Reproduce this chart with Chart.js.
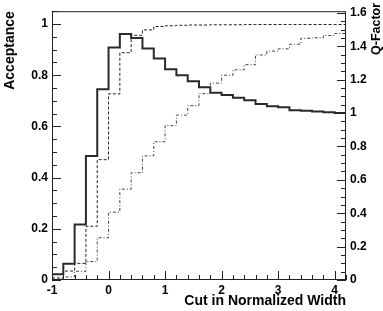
<!DOCTYPE html>
<html>
<head>
<meta charset="utf-8">
<script src="https://cdn.jsdelivr.net/npm/chart.js@4.4.1/dist/chart.umd.min.js"></script>
<style>
  body { margin: 0; background: #fff; }
  canvas { display: block; }
</style>
</head>
<body>
<canvas id="graficoQ" width="383" height="311"></canvas>
<script>
// bin low edges (bin width 0.2), last edge closes the histogram
var binEdges = [-1, -0.8, -0.6, -0.4, -0.2, 0, 0.2, 0.4, 0.6, 0.8, 1, 1.2, 1.4, 1.6, 1.8,
                2, 2.2, 2.4, 2.6, 2.8, 3, 3.2, 3.4, 3.6, 3.8, 4];
var xEnd = 4.2;

// Q-factor (right axis), solid
var qFactor = [0.035, 0.097, 0.333, 0.743, 1.143, 1.392, 1.473, 1.449, 1.387, 1.326, 1.262, 1.227, 1.191,
               1.155, 1.121, 1.108, 1.092, 1.076, 1.054, 1.041, 1.035, 1.017, 1.013, 1.009, 1.005, 1.001];
// gamma acceptance (left axis), dashed
var gammaAcc = [0.008, 0.035, 0.065, 0.21, 0.47, 0.727, 0.888, 0.956, 0.977, 0.99, 0.993, 0.995, 0.996,
                0.996, 0.997, 0.997, 0.997, 0.998, 0.998, 0.998, 0.998, 0.998, 0.998, 0.998, 0.998, 0.998];
// hadron acceptance (left axis), dash-dot
var hadronAcc = [0.003, 0.012, 0.034, 0.072, 0.165, 0.265, 0.355, 0.419, 0.485, 0.54, 0.603, 0.644, 0.681,
                 0.728, 0.769, 0.80, 0.821, 0.841, 0.879, 0.894, 0.903, 0.921, 0.944, 0.946, 0.955, 0.963];

var xTicks = [-1, 0, 1, 2, 3, 4];
var leftTicks = [0, 0.2, 0.4, 0.6, 0.8, 1];
var rightTicks = [0, 0.2, 0.4, 0.6, 0.8, 1, 1.2, 1.4, 1.6];

function histo(vals) {
  var pts = binEdges.map(function(x, i) { return {x: x, y: vals[i]}; });
  pts.push({x: xEnd, y: vals[vals.length - 1]});
  return pts;
}

var fonteEixo = {family: 'Liberation Sans', size: 12, weight: 'bold'};
var fonteTitulo = {family: 'Liberation Sans', size: 14, weight: 'bold'};

// ROOT style: frame + ticks drawn inward
var molduraPlugin = {
  id: 'moldura',
  afterDraw: function(chart) {
    var ctx = chart.ctx, a = chart.chartArea;
    var sx = chart.scales.x, sy = chart.scales.y, sq = chart.scales.q;
    ctx.save();
    ctx.strokeStyle = '#222';
    ctx.lineWidth = 1;
    ctx.strokeRect(a.left + 0.5, a.top + 0.5, a.right - a.left - 1, a.bottom - a.top - 1);
    ctx.beginPath();
    var v, p, len;
    for (v = -1; v <= xEnd + 1e-6; v += 0.2) {
      var r = Math.round(v * 10) / 10;
      p = Math.round(sx.getPixelForValue(r)) + 0.5;
      len = Math.abs(r - Math.round(r)) < 1e-6 ? 9 : 5;
      ctx.moveTo(p, a.bottom);
      ctx.lineTo(p, a.bottom - len);
    }
    for (v = 0; v <= 1.05 + 1e-6; v += 0.05) {
      var r2 = Math.round(v * 100) / 100;
      p = Math.round(sy.getPixelForValue(r2)) + 0.5;
      len = Math.abs(r2 * 5 - Math.round(r2 * 5)) < 1e-6 ? 9 : 5;
      ctx.moveTo(a.left, p);
      ctx.lineTo(a.left + len, p);
    }
    for (v = 0; v <= 1.61 + 1e-6; v += 0.05) {
      var r3 = Math.round(v * 100) / 100;
      p = Math.round(sq.getPixelForValue(r3)) + 0.5;
      len = Math.abs(r3 * 5 - Math.round(r3 * 5)) < 1e-6 ? 9 : 5;
      ctx.moveTo(a.right, p);
      ctx.lineTo(a.right - len, p);
    }
    ctx.stroke();
    // right axis title, reads bottom to top
    ctx.fillStyle = '#000';
    ctx.font = 'bold 12.5px "Liberation Sans"';
    ctx.translate(377, 55);
    ctx.rotate(-Math.PI / 2);
    ctx.textAlign = 'left';
    ctx.textBaseline = 'middle';
    ctx.fillText('Q-Factor', 0, 0);
    ctx.restore();
  }
};

function fixTicks(lista) {
  return function(scale) {
    scale.ticks = lista.map(function(v) { return {value: v}; });
  };
}

var grafico = new Chart(document.getElementById('graficoQ').getContext('2d'), {
  type: 'line',
  data: {
    datasets: [{
      label: 'Q-Factor',
      data: histo(qFactor),
      yAxisID: 'q',
      borderColor: '#2a2a2a',
      borderWidth: 2,
      stepped: 'before'
    }, {
      label: 'gamma',
      data: histo(gammaAcc),
      yAxisID: 'y',
      borderColor: '#222',
      borderWidth: 1,
      borderDash: [3, 2],
      stepped: 'before'
    }, {
      label: 'hadron',
      data: histo(hadronAcc),
      yAxisID: 'y',
      borderColor: '#444',
      borderWidth: 1,
      borderDash: [3, 2, 1, 2],
      stepped: 'before'
    }]
  },
  options: {
    responsive: false,
    devicePixelRatio: 1,
    animation: false,
    layout: {padding: {top: 1, left: 0, right: 0, bottom: 0}},
    elements: {point: {radius: 0}, line: {tension: 0}},
    plugins: {legend: {display: false}, tooltip: {enabled: false}},
    scales: {
      x: {
        type: 'linear', position: 'bottom', min: -1, max: xEnd,
        grid: {display: false, drawTicks: false},
        border: {display: false},
        afterBuildTicks: fixTicks(xTicks),
        afterFit: function(s) { s.height = 31; },
        ticks: {font: fonteEixo, color: '#000', padding: 3, maxRotation: 0, autoSkip: false},
        title: {display: true, text: 'Cut in Normalized Width', align: 'end', color: '#000',
                font: fonteTitulo, padding: {top: 0, bottom: 1}}
      },
      y: {
        type: 'linear', position: 'left', min: 0, max: 1.05,
        grid: {display: false, drawTicks: false},
        border: {display: false},
        afterBuildTicks: fixTicks(leftTicks),
        afterFit: function(s) { s.width = 52; },
        ticks: {font: fonteEixo, color: '#000', padding: 4, autoSkip: false,
                callback: function(v) { return String(Math.round(v * 10) / 10); }},
        title: {display: true, text: 'Acceptance', align: 'end', color: '#000',
                font: fonteTitulo, padding: {top: 2, bottom: 0}}
      },
      q: {
        type: 'linear', position: 'right', min: 0, max: 1.61,
        grid: {display: false, drawTicks: false},
        border: {display: false},
        afterBuildTicks: fixTicks(rightTicks),
        afterFit: function(s) { s.width = 37; },
        ticks: {font: fonteEixo, color: '#000', padding: 4, autoSkip: false,
                callback: function(v) { return String(Math.round(v * 10) / 10); }}
      }
    }
  },
  plugins: [molduraPlugin]
});
</script>
</body>
</html>
